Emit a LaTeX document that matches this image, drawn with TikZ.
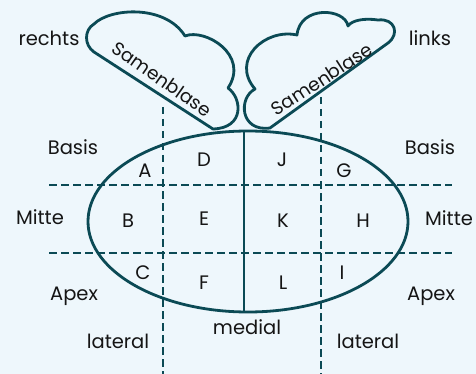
\documentclass[tikz,border=0pt]{standalone}
\usepackage{fontspec}
\setmainfont{Poppins}
\definecolor{paper}{HTML}{EEF7FC}
\definecolor{teal}{HTML}{0B4A55}
\definecolor{ink}{HTML}{151515}
\begin{document}
\begin{tikzpicture}[x=1pt, y=-1pt,
        outline/.style={draw=teal, line width=2.8pt, line join=round},
        grid/.style={draw=teal, line width=2.8pt, dash pattern=on 7.5pt off 4.5pt},
        side/.style={font=\fontsize{19.5}{22}\selectfont, text=ink, inner sep=0pt},
        vesicle/.style={font=\fontsize{18.5}{22}\selectfont, text=ink, inner sep=0pt},
        letter/.style={font=\fontsize{19.5}{22}\selectfont, text=ink, inner sep=0pt}
    ]
        \fill[paper] (0,0) rectangle (476,374);
        \useasboundingbox (0,0) rectangle (476,374);

        % Grid lines: basis/mitte/apex and lateral/medial
        \draw[grid] (49,185) -- (452,185);
        \draw[grid] (49,253) -- (452,253);
        \draw[grid] (163,107) -- (163,374);
        \draw[grid] (321,97) -- (321,374);

        % Prostate outline with the median line
        \draw[outline] (248,221.5) ellipse [x radius=160, y radius=90.5];
        \draw[outline] (244,131) -- (244,312);

        % Left seminal vesicle
        \draw[outline] (213,129) -- (94,52)
            .. controls (84,45) and (84,30) .. (94,24)
            .. controls (110,8) and (165,4) .. (185,36)
            .. controls (205,28) and (250,55) .. (228,88)
            .. controls (242,98) and (245,128) .. (213,129) -- cycle;
        \node[vesicle, rotate=-35] (vesl) at (162,79) {Samenblase};

        % Right seminal vesicle
        \draw[outline] (270,128) -- (388,43)
            .. controls (400,34) and (395,18) .. (378,20)
            .. controls (365,18) and (352,20) .. (348,26)
            .. controls (345,8) and (300,5) .. (297,35)
            .. controls (265,28) and (230,60) .. (255,89)
            .. controls (238,98) and (240,132) .. (270,128) -- cycle;
        \node[vesicle, rotate=33] (vesr) at (322,79) {Samenblase};

        % Side labels
        \node[side] (rechts) at (49,38) {rechts};
        \node[side] (links) at (430,38) {links};
        \node[side] (basisl) at (73,147) {Basis};
        \node[side] (basisr) at (430,147) {Basis};
        \node[side] (mittel) at (40,217) {Mitte};
        \node[side] (mitter) at (449,218) {Mitte};
        \node[side] (apexl) at (74,296) {Apex};
        \node[side] (apexr) at (431,296) {Apex};
        \node[side] (latl) at (118,341) {lateral};
        \node[side] (latr) at (368,341) {lateral};
        \node[side] (medial) at (247,327) {medial};

        % Biopsy regions
        \node[letter] (A) at (145,171) {A};
        \node[letter] (B) at (128,221) {B};
        \node[letter] (C) at (143,273) {C};
        \node[letter] (D) at (204,160) {D};
        \node[letter] (E) at (204,219) {E};
        \node[letter] (F) at (204,283) {F};
        \node[letter] (J) at (282,160) {J};
        \node[letter] (K) at (283,221) {K};
        \node[letter] (L) at (283,283) {L};
        \node[letter] (G) at (344,171) {G};
        \node[letter] (H) at (363,221) {H};
        \node[letter] (I) at (342,273) {I};
    \end{tikzpicture}
\end{document}
